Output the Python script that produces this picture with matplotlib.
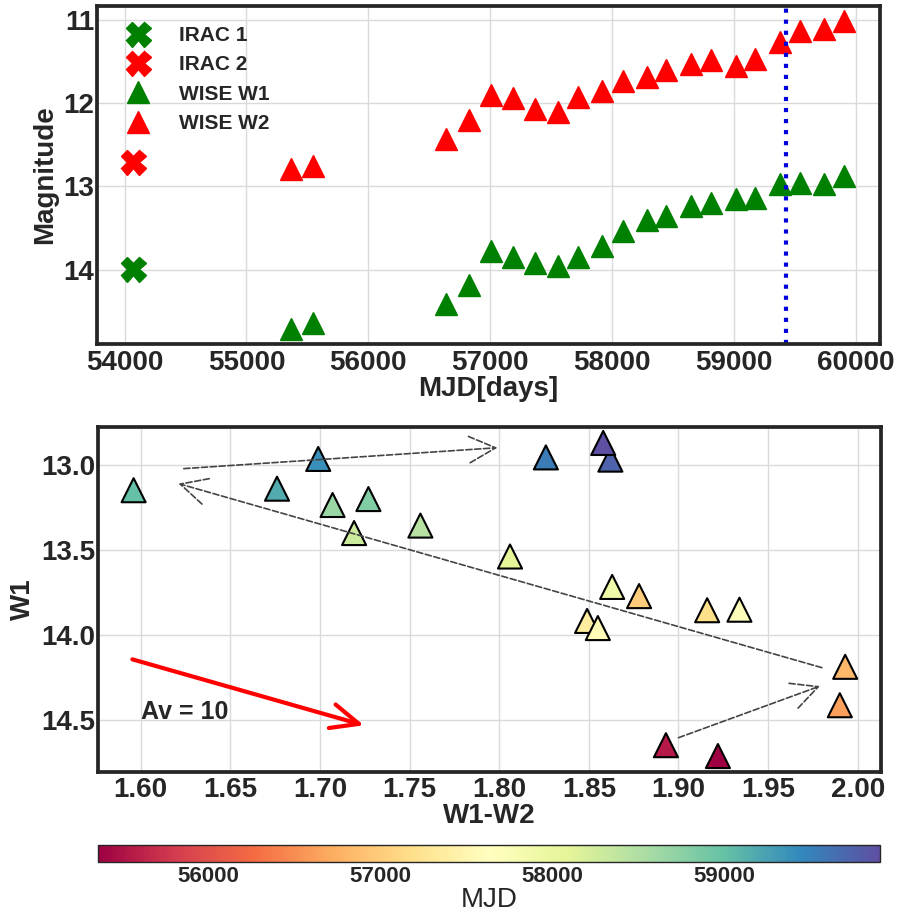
import matplotlib
matplotlib.use('Agg')
import matplotlib.pyplot as plt
import numpy as np

# Spitzer IRAC points
irac_mjd = [54066]
irac1 = [13.99]
irac2 = [12.70]

# WISE light curve
mjd = np.array([55364, 55545, 56640, 56824, 57005, 57188, 57363, 57552, 57722, 57914,
                58086, 58283, 58445, 58648, 58809, 59012, 59171, 59379, 59538, 59741, 59905])
w1 = np.array([14.712, 14.648, 14.413, 14.187, 13.771, 13.854, 13.917, 13.959, 13.851, 13.717,
               13.538, 13.400, 13.356, 13.235, 13.200, 13.148, 13.139, 12.964, 12.955, 12.968, 12.870])
w2 = np.array([12.790, 12.755, 12.423, 12.194, 11.893, 11.938, 12.068, 12.104, 11.917, 11.854,
               11.732, 11.681, 11.600, 11.528, 11.473, 11.552, 11.463, 11.265, 11.129, 11.106, 11.012])
mjd_line = 59426

# dashed track arrows in colour-magnitude diagram: (start, end)
track = [((1.624, 13.021), (1.799, 12.898)),
         ((1.980, 14.192), (1.621, 13.109)),
         ((1.900, 14.604), (1.979, 14.300))]
av_start = (1.5953, 14.143)
av_end = (1.7245, 14.531)

dark = '#262626'
plt.rcParams['font.family'] = ['Liberation Sans', 'DejaVu Sans']
plt.rcParams['font.weight'] = 'bold'
plt.rcParams['axes.labelweight'] = 'bold'
plt.rcParams['axes.edgecolor'] = dark
plt.rcParams['axes.linewidth'] = 2.7
plt.rcParams['xtick.color'] = dark
plt.rcParams['ytick.color'] = dark
plt.rcParams['axes.labelcolor'] = dark
plt.rcParams['text.color'] = dark
plt.rcParams['grid.color'] = '#dadada'
plt.rcParams['grid.linewidth'] = 1.0

fig = plt.figure(figsize=(8.97, 9.15), dpi=100)
ax1 = fig.add_axes([0.1081, 0.624, 0.873, 0.3694])
ax2 = fig.add_axes([0.1093, 0.1566, 0.8726, 0.3764])
cax = fig.add_axes([0.1096, 0.0582, 0.8718, 0.0179])

for ax in (ax1, ax2):
    ax.grid(True)
    ax.set_axisbelow(True)
    ax.tick_params(length=0, labelsize=20)
    ax.tick_params(axis='x', pad=4)
    ax.tick_params(axis='y', pad=2)

# top: light curve
ax1.plot(irac_mjd, irac1, 'X', color='green', ms=18, ls='none', label='IRAC 1')
ax1.plot(irac_mjd, irac2, 'X', color='red', ms=18, ls='none', label='IRAC 2')
ax1.plot(mjd, w1, '^', color='green', ms=16, ls='none', label='WISE W1')
ax1.plot(mjd, w2, '^', color='red', ms=16, ls='none', label='WISE W2')
ax1.axvline(mjd_line, color='#0000dd', ls=':', lw=3)
ax1.invert_yaxis()
ax1.set_xlabel('MJD[days]', fontsize=20, labelpad=0)
ax1.set_ylabel('Magnitude', fontsize=20)
ax1.legend(loc='upper left', frameon=False, fontsize=15, labelspacing=0.5,
           handletextpad=1.0, borderaxespad=0.55)

# bottom: colour-magnitude
sc = ax2.scatter(w1 - w2, w1, c=mjd, cmap='Spectral', marker='^', s=300,
                 edgecolors='k', linewidths=1.5, zorder=3)
for st, en in track:
    ax2.annotate('', xy=en, xytext=st,
                 arrowprops=dict(arrowstyle='->,head_length=1.9,head_width=0.95',
                                 ls='--', color='#444444', lw=1.2,
                                 shrinkA=0, shrinkB=0, mutation_scale=10), zorder=4)
ax2.annotate('', xy=av_end, xytext=av_start,
             arrowprops=dict(arrowstyle='->,head_length=2.0,head_width=0.88',
                             color='red', lw=3, shrinkA=0, shrinkB=0, mutation_scale=10))
ax2.text(1.60, 14.455, 'Av = 10', fontsize=18, fontweight='bold', va='center', ha='left')
ax2.invert_yaxis()
ax2.set_xlabel('W1-W2', fontsize=20, labelpad=0)
ax2.set_ylabel('W1', fontsize=20)

cb = fig.colorbar(sc, cax=cax, orientation='horizontal')
cb.outline.set_linewidth(1)
cb.ax.tick_params(length=0, labelsize=16, pad=3)
cb.set_label('MJD', fontsize=20, fontweight='normal', labelpad=0)

fig.savefig('out.png', dpi=100)
